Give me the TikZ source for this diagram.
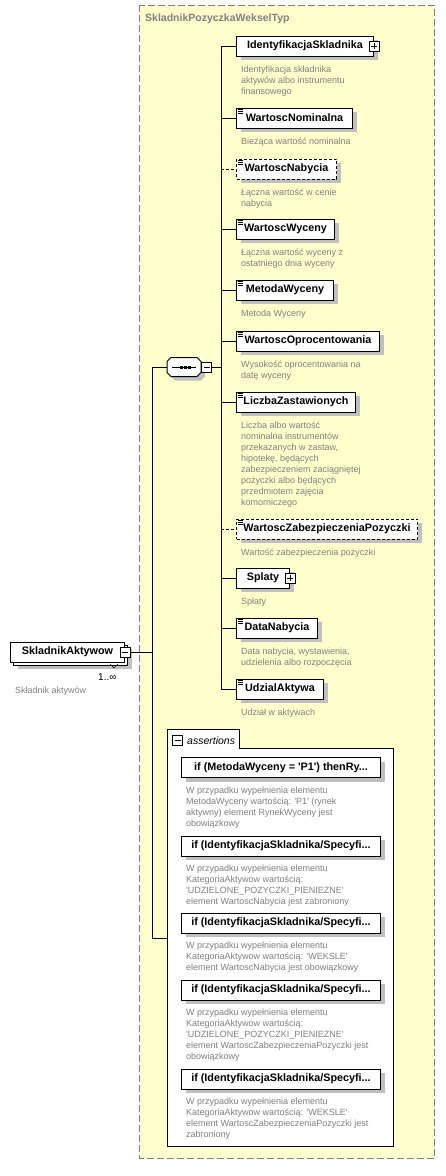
\documentclass[tikz,border=0pt]{standalone}
\usepackage{fontspec}
\setmainfont{Liberation Sans}[Ligatures=TeXOff]
\usetikzlibrary{shadows}
\definecolor{typeyellow}{RGB}{255,255,204}
\definecolor{shadowgray}{RGB}{192,192,192}
\definecolor{descgray}{RGB}{128,128,128}
\definecolor{bordergray}{RGB}{128,128,128}
\tikzset{
  boxbase/.style={draw=black, fill=white, line width=1pt, minimum height=20pt, inner sep=0pt, anchor=west,
    font=\bfseries\fontsize{10.8}{13}\selectfont},
  elem/.style={boxbase, drop shadow={shadow xshift=4pt, shadow yshift=-4pt, fill=shadowgray, opacity=1}},
  optelem/.style={elem, dash pattern=on 3pt off 2pt},
  desc/.style={anchor=base west, inner sep=0pt, align=left, text=descgray, font=\fontsize{9}{11}\selectfont},
  pm/.style={draw=black, fill=white, line width=0.8pt, minimum size=10pt, inner sep=0pt, solid},
  minus/.style={pm, path picture={\draw[line width=0.8pt, solid] ([xshift=2pt]path picture bounding box.west) -- ([xshift=-2pt]path picture bounding box.east);}},
  plus/.style={pm, path picture={\draw[line width=0.8pt, solid] ([xshift=2pt]path picture bounding box.west) -- ([xshift=-2pt]path picture bounding box.east);
     \draw[line width=0.8pt, solid] ([yshift=-2pt]path picture bounding box.north) -- ([yshift=2pt]path picture bounding box.south);}},
  conn/.style={line width=1pt, black},
  optconn/.style={conn, dash pattern=on 3pt off 2pt},
  abox/.style={elem, minimum width=199pt},
}
\newcommand\elicon[1]{\foreach \k in {2,4,6}{\draw[line width=0.7pt, solid] ([shift={(2,\k)}]#1.north west) -- ++(5,0);}}
\begin{document}
\begin{tikzpicture}[x=1pt, y=-1pt]
\useasboundingbox (0,0) rectangle (445,1176);
% complex type box
\draw[fill=typeyellow, draw=bordergray, line width=1pt, dash pattern=on 7pt off 3pt] (139.5,5) rectangle (434,1158);
\node[anchor=base west, inner sep=0pt, font=\bfseries\fontsize{10.5}{12}\selectfont, text=bordergray] (title) at (145,21.5) {SkladnikPozyczkaWekselTyp};

% root element
\node[elem, minimum width=114pt] (sa2) at (13,655) {};
\node[boxbase, minimum width=114pt] (sa) at (10,652) {SkladnikAktywow};
\node[minus] (sam) at (sa.east) {};
\draw[line width=0.6pt] (110,664) -- (114,668) -- (118,664);
\node[anchor=base west, inner sep=0pt, font=\fontsize{10}{12}\selectfont] (card) at (98,680) {1..∞};
\node[desc] (sad) at (15,693) {Składnik aktywów};

% sequence compositor
\node[minimum width=34pt, minimum height=19pt, inner sep=0pt] (seq) at (184,367) {};
\fill[shadowgray] (175,361.5) -- (201,361.5) -- (205,365.5) -- (205,376.5) -- (201,380.5) -- (175,380.5) -- (171,376.5) -- (171,365.5) -- cycle;
\draw[fill=white, line width=1pt] (171,357.5) -- (197,357.5) -- (201,361.5) -- (201,372.5) -- (197,376.5) -- (171,376.5) -- (167,372.5) -- (167,361.5) -- cycle;
\draw[line width=1pt] (172,367) -- (196,367);
\fill (180,365.5) rectangle (183,368.5);
\fill (184,365.5) rectangle (187,368.5);
\fill (188,365.5) rectangle (191,368.5);
\node[minus] (seqm) at (206.5,367) {};

% children (description nodes are anchored at the baseline of their last line)
\node[elem, minimum width=137pt] (is) at (236,46) {IdentyfikacjaSkladnika};
\node[plus] (isp) at (is.east) {};
\node[desc] (isd) at (241,94) {Identyfikacja składnika\\aktywów albo instrumentu\\finansowego};

\node[elem, minimum width=116pt] (wn) at (236,118) {WartoscNominalna}; \elicon{wn}
\node[desc] (wnd) at (241,144) {Bieżąca wartość nominalna};

\node[optelem, minimum width=100pt] (wb) at (236,169) {WartoscNabycia}; \elicon{wb}
\node[desc] (wbd) at (241,206) {Łączna wartość w cenie\\nabycia};

\node[elem, minimum width=98pt] (ww) at (236,229) {WartoscWyceny}; \elicon{ww}
\node[desc] (wwd) at (241,266) {Łączna wartość wyceny z\\ostatniego dnia wyceny};

\node[elem, minimum width=97pt] (mw) at (236,290) {MetodaWyceny}; \elicon{mw}
\node[desc] (mwd) at (241,316) {Metoda Wyceny};

\node[elem, minimum width=143pt] (wo) at (236,341) {WartoscOprocentowania}; \elicon{wo}
\node[desc] (wod) at (241,378) {Wysokość oprocentowania na\\datę wyceny};

\node[elem, minimum width=119pt] (lz) at (236,402) {LiczbaZastawionych}; \elicon{lz}
\node[desc] (lzd) at (241,505) {Liczba albo wartość\\nominalna instrumentów\\przekazanych w zastaw,\\hipotekę, będących\\zabezpieczeniem zaciągniętej\\pożyczki albo będących\\przedmiotem zajęcia\\komorniczego};

\node[optelem, minimum width=181pt] (wz) at (236,529) {WartoscZabezpieczeniaPozyczki}; \elicon{wz}
\node[desc] (wzd) at (241,555) {Wartość zabezpieczenia pożyczki};

\node[elem, minimum width=53pt] (sp) at (236,578) {Splaty};
\node[plus] (spp) at (sp.east) {};
\node[desc] (spd) at (241,604) {Spłaty};

\node[elem, minimum width=81pt] (dn) at (236,628) {DataNabycia}; \elicon{dn}
\node[desc] (dnd) at (241,665) {Data nabycia, wystawienia,\\udzielenia albo rozpoczęcia};

\node[elem, minimum width=87pt] (ua) at (236,689) {UdzialAktywa}; \elicon{ua}
\node[desc] (uad) at (241,715) {Udział w aktywach};

% assertions
\draw[fill=white, line width=1pt] (167,1146) -- (167,729) -- (239,729) -- (239,748) -- (393,748) -- (393,1146) -- cycle;
\node[inner sep=0pt, minimum width=226pt, minimum height=398pt] (asr) at (280,947) {};
\node[minus] (asrm) at (177.5,740) {};
\node[anchor=base west, inner sep=0pt, font=\itshape\fontsize{10.5}{12}\selectfont] (asrt) at (187,744) {assertions};

\node[abox] (a1) at (181,767.5) {if (MetodaWyceny = 'P1') thenRy...};
\node[desc] (a1d) at (186,826) {W przypadku wypełnienia elementu\\MetodaWyceny wartością: 'P1' (rynek\\aktywny) element RynekWyceny jest\\obowiązkowy};
\node[abox] (a2) at (181,846) {if (IdentyfikacjaSkladnika/Specyfi...};
\node[desc] (a2d) at (186,904) {W przypadku wypełnienia elementu\\KategoriaAktywow wartością:\\'UDZIELONE\_POZYCZKI\_PIENIEZNE'\\element WartoscNabycia jest zabroniony};
\node[abox] (a3) at (181,923) {if (IdentyfikacjaSkladnika/Specyfi...};
\node[desc] (a3d) at (186,970) {W przypadku wypełnienia elementu\\KategoriaAktywow wartością: 'WEKSLE'\\element WartoscNabycia jest obowiązkowy};
\node[abox] (a4) at (181,990) {if (IdentyfikacjaSkladnika/Specyfi...};
\node[desc] (a4d) at (186,1059) {W przypadku wypełnienia elementu\\KategoriaAktywow wartością:\\'UDZIELONE\_POZYCZKI\_PIENIEZNE'\\element WartoscZabezpieczeniaPozyczki jest\\obowiązkowy};
\node[abox] (a5) at (181,1079) {if (IdentyfikacjaSkladnika/Specyfi...};
\node[desc] (a5d) at (186,1137) {W przypadku wypełnienia elementu\\KategoriaAktywow wartością: 'WEKSLE'\\element WartoscZabezpieczeniaPozyczki jest\\zabroniony};

% connectors
\coordinate (j1) at (152,367);
\coordinate (j2) at (152,938);
\coordinate (sx) at (221,367);
\draw[conn] (sam.east) -- (sam.east -| j1);
\draw[conn] (j1) -- (j2);
\draw[conn] (j1) -- (seq.west);
\draw[conn] (j2) -- (j2 -| asr.west);
\draw[conn] (seqm.east) -- (sx);
\draw[conn] (is.west -| sx) -- (ua.west -| sx);
\draw[conn] (is.west -| sx) -- (is.west);
\draw[conn] (wn.west -| sx) -- (wn.west);
\draw[optconn] (wb.west -| sx) -- (wb.west);
\draw[conn] (ww.west -| sx) -- (ww.west);
\draw[conn] (mw.west -| sx) -- (mw.west);
\draw[conn] (wo.west -| sx) -- (wo.west);
\draw[conn] (lz.west -| sx) -- (lz.west);
\draw[optconn] (wz.west -| sx) -- (wz.west);
\draw[conn] (sp.west -| sx) -- (sp.west);
\draw[conn] (dn.west -| sx) -- (dn.west);
\draw[conn] (ua.west -| sx) -- (ua.west);
\end{tikzpicture}
\end{document}
